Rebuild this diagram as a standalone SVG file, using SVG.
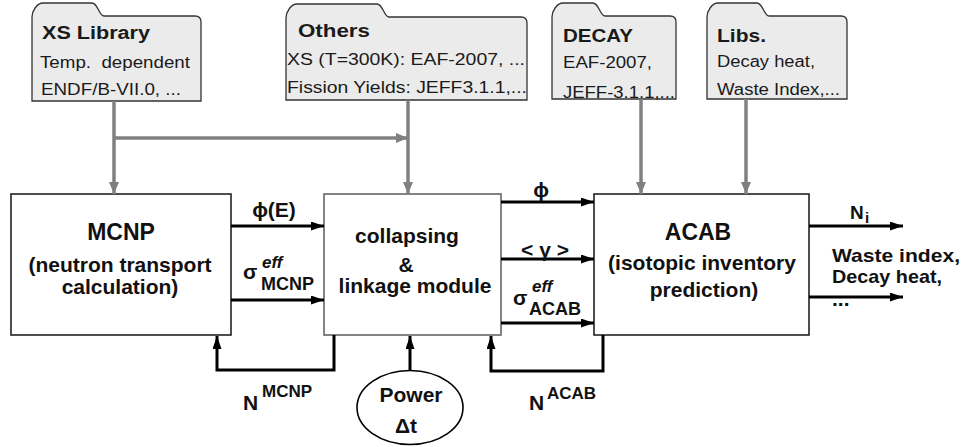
<svg xmlns="http://www.w3.org/2000/svg" width="967" height="447" viewBox="0 0 967 447">
<defs>
<marker id="ag" markerUnits="userSpaceOnUse" markerWidth="12" markerHeight="10" refX="12" refY="5" orient="auto"><path d="M0,0 L12,5 L0,10 z" fill="#808080"/></marker>
<marker id="ab" markerUnits="userSpaceOnUse" markerWidth="13" markerHeight="9" refX="13" refY="4.5" orient="auto"><path d="M0,0 L13,4.5 L0,9 z" fill="#000"/></marker>
<style>
.folder{fill:#ebebeb;stroke:#333;stroke-width:1.3}
.ft{font-family:"Liberation Sans",Arial,sans-serif;font-weight:bold;font-size:18px;fill:#1a1a1a}
.fb{font-family:"Liberation Sans",Arial,sans-serif;font-size:16px;fill:#1a1a1a}
.box{fill:#fff;stroke:#222;stroke-width:1.6}
.t{font-family:"Liberation Sans",Arial,sans-serif;font-weight:bold;font-size:21px;fill:#111}
.big{font-size:23px}
.sm{font-size:17px}
.it{font-style:italic}
.g{fill:none;stroke:#808080;stroke-width:3.5}
.k{fill:none;stroke:#000;stroke-width:3}
</style>
</defs>

<g id="xs-library">
<path class="folder" d="M32,101 L32,17 C32,11 37,3 43,3 L92,3 C98,3 99,16 104,16 L195,16 Q201,16 201,22 L201,101 Z"/>
<text class="ft" x="42" y="39" textLength="108" lengthAdjust="spacingAndGlyphs">XS Library</text>
<text class="fb" x="40" y="68" textLength="150" lengthAdjust="spacingAndGlyphs" xml:space="preserve">Temp.  dependent</text>
<text class="fb" x="41" y="95" textLength="140" lengthAdjust="spacingAndGlyphs">ENDF/B-VII.0, ...</text>
</g>

<g id="others">
<path class="folder" d="M286,100 L286,18 C286,12 291,4 297,4 L377,4 C383,4 384,17 389,17 L521,17 Q527,17 527,23 L527,100 Z"/>
<text class="ft" x="298" y="37" textLength="72" lengthAdjust="spacingAndGlyphs">Others</text>
<text class="fb" x="287" y="65" textLength="238" lengthAdjust="spacingAndGlyphs">XS (T=300K): EAF-2007, ...</text>
<text class="fb" x="287" y="93" textLength="240" lengthAdjust="spacingAndGlyphs">Fission Yields: JEFF3.1.1,...</text>
</g>

<g id="decay">
<path class="folder" d="M552,99 L552,17 C552,11 557,3 563,3 L593,3 C599,3 600,16 605,16 L670,16 Q676,16 676,22 L676,99 Z"/>
<text class="ft" x="563" y="42" textLength="70" lengthAdjust="spacingAndGlyphs">DECAY</text>
<text class="fb" x="563" y="68" textLength="89" lengthAdjust="spacingAndGlyphs">EAF-2007,</text>
<text class="fb" x="563" y="98" textLength="112" lengthAdjust="spacingAndGlyphs">JEFF-3.1.1,...</text>
</g>

<g id="libs">
<path class="folder" d="M707,99 L707,17 C707,11 712,3 718,3 L757,3 C763,3 764,16 769,16 L841,16 Q847,16 847,22 L847,99 Z"/>
<text class="ft" x="717" y="42" textLength="49" lengthAdjust="spacingAndGlyphs">Libs.</text>
<text class="fb" x="717" y="67" textLength="98" lengthAdjust="spacingAndGlyphs">Decay heat,</text>
<text class="fb" x="717" y="95" textLength="123" lengthAdjust="spacingAndGlyphs">Waste Index,...</text>
</g>

<g id="mcnp">
<rect class="box" x="11" y="194" width="220" height="141"/>
<text class="t big" x="121" y="240" text-anchor="middle">MCNP</text>
<text class="t" x="120" y="272" text-anchor="middle">(neutron transport</text>
<text class="t" x="120" y="294" text-anchor="middle">calculation)</text>
</g>

<g id="collapsing">
<rect class="box" x="324" y="194" width="177" height="141" style="stroke:#666"/>
<text class="t" x="407" y="243" text-anchor="middle">collapsing</text>
<text class="t" x="406" y="272" text-anchor="middle">&amp;</text>
<text class="t" x="415" y="293" text-anchor="middle">linkage module</text>
</g>

<g id="acab">
<rect class="box" x="594" y="194" width="215" height="141"/>
<text class="t big" x="698" y="240" text-anchor="middle">ACAB</text>
<text class="t" x="702" y="270" text-anchor="middle">(isotopic inventory</text>
<text class="t" x="704" y="297" text-anchor="middle">prediction)</text>
</g>

<g id="power">
<ellipse cx="410" cy="407.5" rx="53" ry="37" fill="#fff" stroke="#000" stroke-width="1.6"/>
<text class="t" x="411" y="402" text-anchor="middle">Power</text>
<text class="t" x="406" y="433" text-anchor="middle">Δt</text>
</g>

<g id="connectors">
<line class="g" x1="114" y1="101" x2="114" y2="194" marker-end="url(#ag)"/>
<line class="g" x1="114" y1="138" x2="408" y2="138" marker-end="url(#ag)"/>
<line class="g" x1="408" y1="100" x2="408" y2="194" marker-end="url(#ag)"/>
<line class="g" x1="641" y1="99" x2="641" y2="194" marker-end="url(#ag)"/>
<line class="g" x1="746" y1="99" x2="746" y2="194" marker-end="url(#ag)"/>

<line class="k" x1="231" y1="226" x2="324" y2="226" marker-end="url(#ab)"/>
<line class="k" x1="231" y1="300" x2="324" y2="300" marker-end="url(#ab)"/>
<line class="k" x1="501" y1="202" x2="594" y2="202" marker-end="url(#ab)"/>
<line class="k" x1="501" y1="259" x2="594" y2="259" marker-end="url(#ab)"/>
<line class="k" x1="501" y1="323" x2="594" y2="323" marker-end="url(#ab)"/>
<line class="k" x1="809" y1="226" x2="903" y2="226" marker-end="url(#ab)"/>
<line class="k" x1="809" y1="297" x2="903" y2="297" marker-end="url(#ab)"/>

<path class="k" d="M334,335 V370 H217 V336" marker-end="url(#ab)"/>
<path class="k" d="M603,335 V371 H491 V336" marker-end="url(#ab)"/>
<line class="k" x1="410" y1="370" x2="410" y2="336" marker-end="url(#ab)"/>

<text class="t" x="274" y="217" text-anchor="middle">ϕ(E)</text>
<text class="t" x="243" y="279">σ</text>
<text class="t sm it" x="262" y="268">eff</text>
<text class="t" x="261" y="290" style="font-size:18px">MCNP</text>

<text class="t" x="541" y="197" text-anchor="middle">ϕ</text>
<text class="t" x="545" y="257" text-anchor="middle" xml:space="preserve">&lt; γ &gt;</text>
<text class="t" x="513" y="305">σ</text>
<text class="t sm it" x="532" y="292">eff</text>
<text class="t" x="529" y="315" style="font-size:18px">ACAB</text>

<text class="t" x="850" y="219" style="font-size:19px">N</text>
<text class="t" x="865" y="223" style="font-size:15px">i</text>
<text class="t" x="832" y="262" style="font-size:18.5px" textLength="128" lengthAdjust="spacingAndGlyphs">Waste index,</text>
<text class="t" x="832" y="283" style="font-size:18.5px" textLength="110" lengthAdjust="spacingAndGlyphs">Decay heat,</text>
<text class="t" x="832" y="306">...</text>

<text class="t" x="243" y="410">N</text>
<text class="t sm" x="262" y="397">MCNP</text>
<text class="t" x="529" y="410">N</text>
<text class="t sm" x="547" y="399">ACAB</text>
</g>
</svg>
